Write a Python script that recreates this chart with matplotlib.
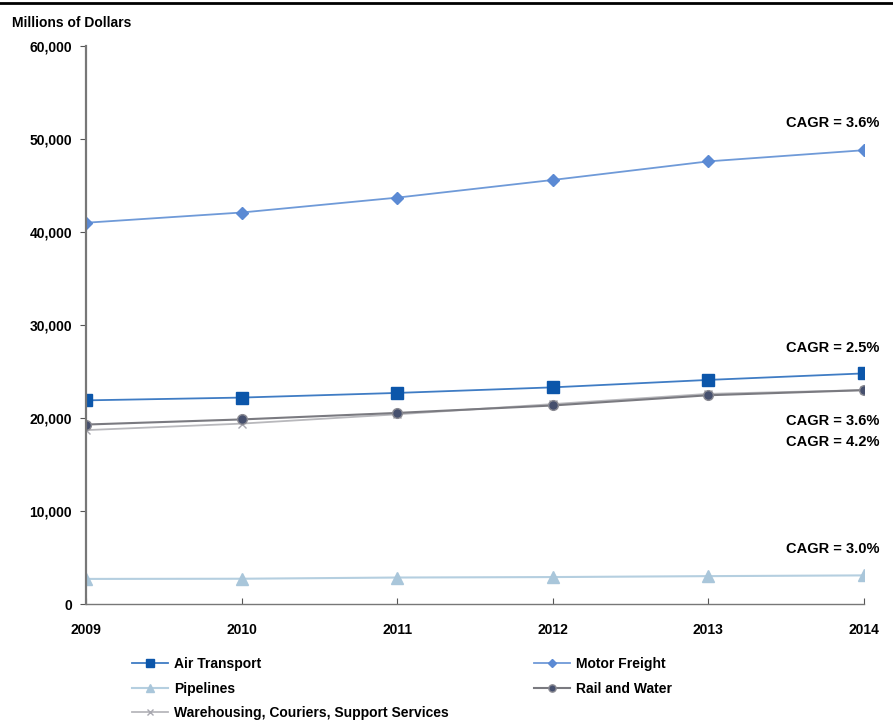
import matplotlib
matplotlib.use("Agg")
import matplotlib.pyplot as plt
from matplotlib.lines import Line2D
from matplotlib.ticker import FuncFormatter

plt.rcParams['font.family'] = ['Liberation Sans', 'DejaVu Sans']

years = [2009, 2010, 2011, 2012, 2013, 2014]
air_transport = [21900, 22200, 22700, 23300, 24100, 24800]
motor_freight = [41000, 42100, 43700, 45600, 47600, 48800]
pipelines = [2700, 2720, 2850, 2900, 3000, 3080]
rail_water = [19300, 19850, 20550, 21350, 22450, 23000]
warehousing = [18700, 19400, 20400, 21500, 22600, 23000]

cagr_labels = [("CAGR = 3.6%", 51700), ("CAGR = 2.5%", 27500),
               ("CAGR = 3.6%", 19700), ("CAGR = 4.2%", 17400),
               ("CAGR = 3.0%", 5900)]

fig = plt.figure(figsize=(8.93, 7.24), dpi=100)
ax = fig.add_axes([0.0963, 0.1657, 0.8712, 0.7707])

ax.plot(years, motor_freight, color='#6f9ad8', lw=1.3, marker='D', ms=6,
        mfc='#5b8ad4', mec='#5b8ad4', label='Motor Freight')
ax.plot(years, warehousing, color='#b8b8bc', lw=1.3, marker='x', ms=6,
        mec='#a8a8b0', label='Warehousing, Couriers, Support Services')
ax.plot(years, rail_water, color='#7a7a80', lw=1.5, marker='o', ms=7,
        mfc='#46506e', mec='#8a8a92', label='Rail and Water')
ax.plot(years, air_transport, color='#3f7cc4', lw=1.3, marker='s', ms=8,
        mfc='#0c56aa', mec='#0c56aa', label='Air Transport')
ax.plot(years, pipelines, color='#b5cfe0', lw=1.5, marker='^', ms=8,
        mfc='#a9c6da', mec='#a9c6da', label='Pipelines')

for text, y in cagr_labels:
    ax.text(2014.1, y, text, ha='right', va='center', fontsize=10.5,
            fontweight='bold', color='#000000')

ax.set_xlim(2009, 2014)
ax.set_ylim(0, 60000)
ax.set_xticks(years)
ax.set_yticks(range(0, 60001, 10000))
ax.yaxis.set_major_formatter(FuncFormatter(lambda v, p: f"{int(v):,}"))
for lbl in ax.get_xticklabels() + ax.get_yticklabels():
    lbl.set_fontweight('bold')
    lbl.set_fontsize(10)
ax.tick_params(axis='x', direction='in', length=4, pad=14, color='#555555')
ax.tick_params(axis='y', direction='out', length=4, pad=6, color='#555555')
ax.spines['top'].set_visible(False)
ax.spines['right'].set_visible(False)
ax.spines['left'].set_color('#777777')
ax.spines['left'].set_linewidth(1.6)
ax.spines['bottom'].set_color('#777777')
ax.spines['bottom'].set_linewidth(1.0)
ax.patch.set_visible(False)

fig.text(0.013, 0.968, 'Millions of Dollars', fontsize=10, fontweight='bold',
         ha='left', va='center')

# thin rule across the top of the figure
fig.add_artist(Line2D([0, 1], [0.996, 0.996], color='black', lw=2,
                      transform=fig.transFigure))

handles = {h.get_label(): h for h in ax.get_lines()}
left_keys = ['Air Transport', 'Pipelines', 'Warehousing, Couriers, Support Services']
right_keys = ['Motor Freight', 'Rail and Water']
leg_kw = dict(frameon=False, fontsize=10, handlelength=2.6, handletextpad=0.4,
              labelspacing=0.75, markerscale=0.75, borderaxespad=0)
leg1 = fig.legend([handles[k] for k in left_keys], left_keys, loc='upper left',
                  bbox_to_anchor=(0.142, 0.1), **leg_kw)
leg2 = fig.legend([handles[k] for k in right_keys], right_keys, loc='upper left',
                  bbox_to_anchor=(0.592, 0.1), **leg_kw)
for leg in (leg1, leg2):
    for t in leg.get_texts():
        t.set_fontweight('bold')

fig.savefig('out.png', dpi=100)
